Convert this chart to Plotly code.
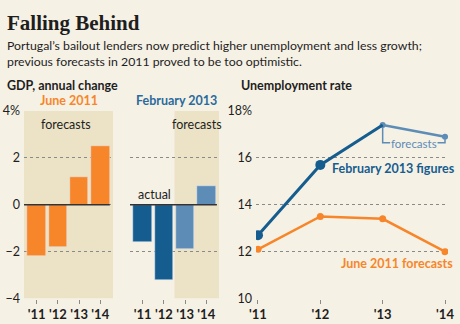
import plotly.graph_objects as go

# ---- data ----
years = ["'11", "'12", "'13", "'14"]
gdp_june2011 = [-2.2, -1.8, 1.2, 2.5]
gdp_feb2013 = [-1.6, -3.2, -1.9, 0.8]
unemp_feb2013 = [12.7, 15.7, 17.4, 16.9]
unemp_june2011 = [12.1, 13.5, 13.4, 12.0]
gdp_ticks = [-4, -2, 0, 2, 4]
gdp_ticktext = ["\u22124", "\u22122", "0", "2", "4%"]
unemp_ticks = [10, 12, 14, 16, 18]
unemp_ticktext = ["10", "12", "14", "16", "18%"]

W, H = 460, 324
BG = "#f6f1e5"
SHADE = "#ece2c6"
ORANGE = "#f7862a"
DBLUE = "#165d8f"
LBLUE = "#5d8cb6"
TXT = "#1e1e1e"
GRID = "#8a8a8a"
FONT = "Lato, sans-serif"

def px(x):
    return x / W

def py(y):
    return 1 - y / H

fig = go.Figure()
xs = list(range(4))

fig.add_trace(go.Bar(x=xs, y=gdp_june2011, marker_color=ORANGE, width=0.88,
                     xaxis="x", yaxis="y", showlegend=False))
fig.add_trace(go.Bar(x=xs, y=gdp_feb2013,
                     marker_color=[DBLUE, DBLUE, LBLUE, LBLUE], width=0.88,
                     xaxis="x2", yaxis="y2", showlegend=False))

# unemployment lines
fig.add_trace(go.Scatter(x=xs, y=unemp_june2011, mode="lines+markers",
                         line=dict(color=ORANGE, width=2.5),
                         marker=dict(size=7, color=ORANGE),
                         xaxis="x3", yaxis="y3", showlegend=False))
fig.add_trace(go.Scatter(x=xs[2:], y=unemp_feb2013[2:], mode="lines+markers",
                         line=dict(color=LBLUE, width=2.5),
                         marker=dict(size=6, color=LBLUE),
                         xaxis="x3", yaxis="y3", showlegend=False))
fig.add_trace(go.Scatter(x=xs[:3], y=unemp_feb2013[:3], mode="lines",
                         line=dict(color=DBLUE, width=3),
                         xaxis="x3", yaxis="y3", showlegend=False))
fig.add_trace(go.Scatter(x=xs[:2], y=unemp_feb2013[:2], mode="markers",
                         marker=dict(size=10, color=DBLUE),
                         xaxis="x3", yaxis="y3", showlegend=False))

ydom = [py(298.5), py(111)]
tickfont = dict(family=FONT, size=12.5, color=TXT)
xtickfont = dict(family="Lato, sans-serif", size=13, color=TXT, weight="bold")
common_x = dict(tickmode="array", tickvals=xs, ticktext=years, range=[-0.6, 3.6],
                showgrid=False, zeroline=False, showline=False, tickangle=0,
                ticks="outside", ticklen=4, tickcolor=GRID, tickwidth=1,
                tickfont=xtickfont, ticklabelstandoff=0, automargin=False)

fig.update_layout(
    width=W, height=H, margin=dict(l=0, r=0, t=0, b=0, autoexpand=False),
    paper_bgcolor=BG, plot_bgcolor="rgba(0,0,0,0)",
    bargap=0,
    xaxis=dict(domain=[px(24), px(113)], anchor="y", **common_x),
    xaxis2=dict(domain=[px(130), px(219)], anchor="y2", **common_x),
    xaxis3=dict(domain=[px(256), px(448)], anchor="y3",
                tickmode="array", tickvals=xs, ticktext=years, range=[-0.032, 3.048],
                showgrid=False, zeroline=False, showline=False, tickangle=0,
                ticks="outside", ticklen=4, tickcolor=GRID, ticklabelstandoff=0,
                tickfont=xtickfont, automargin=False),
    yaxis=dict(domain=ydom, anchor="x", range=[-4, 4], tickmode="array",
               tickvals=gdp_ticks, ticktext=gdp_ticktext, showgrid=True,
               gridcolor=GRID, griddash="dot", gridwidth=1, zeroline=False,
               showline=False, ticks="", tickfont=tickfont, ticklabelstandoff=3,
               automargin=False),
    yaxis2=dict(domain=ydom, anchor="x2", range=[-4, 4], tickmode="array",
                tickvals=gdp_ticks, showticklabels=False, showgrid=True,
                gridcolor=GRID, griddash="dot", gridwidth=1, zeroline=False,
                showline=False, ticks="", automargin=False),
    yaxis3=dict(domain=ydom, anchor="x3", range=[10, 18], tickmode="array",
                tickvals=unemp_ticks, ticktext=unemp_ticktext, showgrid=True,
                gridcolor=GRID, griddash="dot", gridwidth=1, zeroline=False,
                showline=False, ticks="", tickfont=tickfont, ticklabelstandoff=3,
                automargin=False),
)

shapes = [
    dict(type="rect", xref="x domain", yref="y", x0=0, x1=1, y0=-4, y1=4,
         fillcolor=SHADE, line_width=0, layer="below"),
    dict(type="rect", xref="x2", yref="y2", x0=1.5, x1=3.6, y0=-4, y1=4,
         fillcolor=SHADE, line_width=0, layer="below"),
    dict(type="line", xref="x", yref="y", x0=-0.6, x1=3.45, y0=0, y1=0,
         line=dict(color="#333333", width=1.5), layer="above"),
    dict(type="line", xref="x2", yref="y2", x0=-0.6, x1=3.5, y0=0, y1=0,
         line=dict(color="#333333", width=1.5), layer="above"),
    # forecast bracket
    dict(type="path", xref="x3", yref="y3",
         path=f"M 2,{unemp_feb2013[2]-0.1} L 2,16.65 L 2.12,16.65",
         line=dict(color=LBLUE, width=1.5)),
    dict(type="path", xref="x3", yref="y3",
         path=f"M 2.88,16.65 L 3,16.65 L 3,{unemp_feb2013[3]-0.1}",
         line=dict(color=LBLUE, width=1.5)),
]
fig.update_layout(shapes=shapes)

def ann(x, y, text, size=13, color=TXT, bold=False, xanchor="left", family=FONT):
    t = f"<b>{text}</b>" if bold else text
    fig.add_annotation(x=px(x), y=py(y), xref="paper", yref="paper", text=t,
                       showarrow=False, xanchor=xanchor, yanchor="middle",
                       font=dict(family=family, size=size, color=color))

ann(5, 23, "Falling Behind", size=21, bold=True,
    family="Liberation Serif")
ann(5, 46, "Portugal\u2019s bailout lenders now predict higher unemployment and less growth;", size=12.3)
ann(5, 62, "previous forecasts in 2011 proved to be too optimistic.", size=12.3)
ann(5, 85, "GDP, annual change", size=12.5, bold=True)
ann(239, 85, "Unemployment rate", size=12.5, bold=True)
ann(69, 100, "June 2011", size=12.5, bold=True, color=ORANGE, xanchor="center")
ann(176, 100, "February 2013", size=12.5, bold=True, color="#2a6a9c", xanchor="center")
ann(66, 125, "forecasts", size=12.5, xanchor="center")
ann(197, 125, "forecasts", size=12.5, xanchor="center")
ann(154, 194, "actual", size=12.5, xanchor="center")
ann(414, 143, "forecasts", size=11.5, color=LBLUE, xanchor="center")
ann(393, 168, "February 2013 figures", size=12.5, bold=True, color=DBLUE, xanchor="center")
ann(397, 263, "June 2011 forecasts", size=12.5, bold=True, color=ORANGE, xanchor="center")

fig.write_html("out.html")
